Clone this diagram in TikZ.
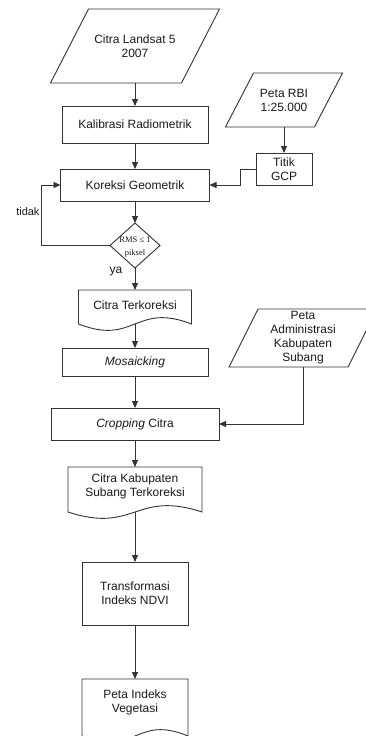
\documentclass[tikz,border=0pt]{standalone}
\usepackage{fontspec}
\setmainfont{Liberation Sans}
\newfontfamily\rmssmall{Liberation Serif}
\usetikzlibrary{arrows.meta,calc,shapes.geometric}
\definecolor{linec}{HTML}{333333}
\definecolor{txtc}{HTML}{1A1A1A}
\newcommand\paraframe[2]{%
  \draw[frame] ([xshift=#2pt]#1.north west) -- (#1.north east) -- ([xshift=-#2pt]#1.south east) -- (#1.south west) -- cycle;}
\newcommand\docframe[2]{%
  \draw[frame] ($(#1.south east)+(0,#2)$) -- (#1.north east) -- (#1.north west) -- ($(#1.south west)+(0,#2)$)
    .. controls ($(#1.south)+(0,#2+22)$) and ($(#1.south)+(0,#2-22)$) .. ($(#1.south east)+(0,#2)$) -- cycle;
  \coordinate (#1-w) at ($(#1.south)+(0,#2)$);}
\begin{document}
\begin{tikzpicture}[x=1pt,y=-1pt,
  every node/.style={text=txtc, font=\fontsize{12}{14}\selectfont, align=center, inner sep=0pt, outer sep=0pt},
  proc/.style={draw=linec, line width=0.9pt},
  ghost/.style={draw=none},
  frame/.style={draw=linec, line width=0.9pt},
  arr/.style={draw=linec, line width=0.9pt, -{Triangle[length=7pt,width=6pt]}}]
\useasboundingbox (0,0) rectangle (366,736);
\fill[white] (0,0) rectangle (366,736);
\clip (0,0) rectangle (366,736);

\node[ghost, minimum width=169pt, minimum height=74pt] (landsat) at (135,46) {Citra Landsat 5\\2007};
\node[proc, minimum width=146pt, minimum height=37pt] (kalib) at (135,124.5) {Kalibrasi Radiometrik};
\node[proc, minimum width=149pt, minimum height=32pt] (korek) at (135,185) {Koreksi Geometrik};
\node[ghost, minimum width=117pt, minimum height=54pt] (rbi) at (284,100) {Peta RBI\\1:25.000};
\node[proc, minimum width=56pt, minimum height=32pt] (gcp) at (284,169) {Titik\\GCP};
\node[diamond, draw=linec, line width=0.9pt, minimum width=50pt, minimum height=45pt] (dec) at (135,245.5) {};
\node[font=\rmssmall\fontsize{8.5}{12.5}\selectfont] (dectext) at (135,247) {RMS ≤ 1\\piksel};
\node[ghost, minimum width=113pt, minimum height=30pt] (terk) at (135,305) {Citra Terkoreksi};
\node[proc, minimum width=146pt, minimum height=28pt] (mosaic) at (135,362) {\itshape Mosaicking};
\node[proc, minimum width=168pt, minimum height=32pt] (crop) at (135,424) {\textit{Cropping} Citra};
\node[ghost, minimum width=148pt, minimum height=58pt] (admin) at (303,338) {Peta\\Administrasi\\Kabupaten\\Subang};
\node[ghost, minimum width=134pt, minimum height=39pt] (kab) at (135,486.5) {Citra Kabupaten\\Subang Terkoreksi};
\node[proc, minimum width=106pt, minimum height=63pt] (transf) at (135,593.5) {Transformasi\\Indeks NDVI};
\node[ghost, minimum width=106pt, minimum height=46pt] (indeks) at (135,702) {Peta Indeks\\Vegetasi};

\paraframe{landsat}{38}
\paraframe{rbi}{28}
\paraframe{admin}{29}
\docframe{terk}{4}
\docframe{kab}{6}
\docframe{indeks}{11}

\draw[arr] (landsat) -- (kalib);
\draw[arr] (kalib) -- (korek);
\draw[arr] (korek) -- (dec);
\draw[arr] (rbi) -- (gcp);
\draw[arr] (gcp.west) -- ++(-16,0) |- (korek.east);
\coordinate (fb) at (41,245.5);
\draw[arr] (dec.west) -- (fb) |- (korek.west);
\node[anchor=east, font=\fontsize{11}{13}\selectfont] (tidak) at (39.5,212) {tidak};
\draw[arr] (dec) -- (terk);
\node (ya) at (116,272) {ya};
\draw[arr] (terk-w) -- (mosaic);
\draw[arr] (mosaic) -- (crop);
\draw[arr] (admin.south) |- (crop.east);
\draw[arr] (crop) -- (kab);
\draw[arr] (kab-w) -- (transf);
\draw[arr] (transf) -- (indeks);
\end{tikzpicture}
\end{document}
